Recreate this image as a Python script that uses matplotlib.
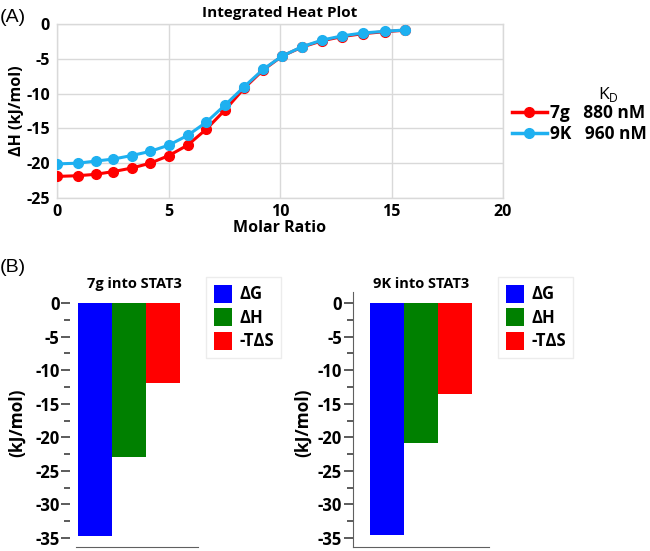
import matplotlib
matplotlib.use("Agg")
import matplotlib.pyplot as plt
from matplotlib.patches import Patch
from matplotlib.lines import Line2D

# ---------------- data ----------------
molar_ratio = [0, 0.92, 1.73, 2.53, 3.35, 4.18, 5.02, 5.86, 6.7, 7.55, 8.4,
               9.25, 10.1, 11.0, 11.9, 12.8, 13.7, 14.7, 15.6]
dh_7g = [-21.9, -21.8, -21.6, -21.2, -20.7, -20.0, -18.9, -17.4, -15.1, -12.3,
         -9.2, -6.6, -4.6, -3.3, -2.4, -1.8, -1.4, -1.1, -0.9]
dh_9k = [-20.1, -20.0, -19.7, -19.4, -18.9, -18.3, -17.4, -16.0, -14.1, -11.6,
         -9.0, -6.5, -4.6, -3.25, -2.3, -1.7, -1.3, -1.05, -0.86]
series_labels = ["7g   880 nM", "9K   960 nM"]

thermo_labels = ["\u0394G", "\u0394H", "-T\u0394S"]
values_7g = [-34.7, -22.9, -11.9]
values_9k = [-34.5, -20.8, -13.6]
bar_titles = ["7g into STAT3", "9K into STAT3"]

FONT = "Open Sans"
plt.rcParams['font.family'] = [FONT, 'DejaVu Sans']
plt.rcParams['axes.unicode_minus'] = False

W, H = 650, 551
fig = plt.figure(figsize=(W / 100, H / 100), dpi=100)


def rect(x0, y0, x1, y1):
    return [x0 / W, 1 - y1 / H, (x1 - x0) / W, (y1 - y0) / H]


# ---------------- panel A ----------------
ax = fig.add_axes(rect(57, 24, 503, 198))
grid_c = "#d9d9d9"
ax.plot(molar_ratio, dh_7g, color="#ff0000", lw=2.2, marker="o", ms=7, zorder=3)
ax.plot(molar_ratio, dh_9k, color="#1eb0f0", lw=2.2, marker="o", ms=7, zorder=4)
ax.set_xlim(0, 20)
ax.set_ylim(-25, 0)
ax.set_xticks([0, 5, 10, 15, 20])
ax.set_yticks([0, -5, -10, -15, -20, -25])
ax.grid(True, color=grid_c, lw=1)
ax.set_axisbelow(True)
for s in ax.spines.values():
    s.set_color(grid_c)
    s.set_linewidth(1)
ax.tick_params(axis="y", length=0, labelsize=11.5, pad=5)
ax.tick_params(axis="x", length=0, labelsize=11.5, pad=4)
for lab in ax.get_xticklabels() + ax.get_yticklabels():
    lab.set_fontweight("bold")
ax.set_title("Integrated Heat Plot", fontsize=11, fontweight="bold", pad=5)
ax.set_xlabel("Molar Ratio", fontsize=11.5, fontweight="bold", labelpad=0)
ax.set_ylabel("\u0394H (kJ/mol)", fontsize=11.5, fontweight="bold", labelpad=1)

handles = [Line2D([], [], color="#ff0000", lw=2.5, marker="o", ms=7),
           Line2D([], [], color="#1eb0f0", lw=2.5, marker="o", ms=7)]
leg = fig.legend(handles, series_labels, loc="upper left",
                 bbox_to_anchor=(512 / W, 1 - 104 / H), frameon=False,
                 prop={"family": FONT, "weight": "bold", "size": 12.5},
                 handlelength=2.0, handletextpad=0.2, labelspacing=0.2,
                 borderaxespad=0, borderpad=0)
fig.text(608 / W, 1 - 94 / H, "K$_\\mathregular{D}$", fontsize=12.5,
         ha="center", va="center")

fig.text(0, 1 - 18 / H, "(A)", fontsize=14, ha="left", va="center",
         family="Liberation Sans")
fig.text(0, 1 - 268 / H, "(B)", fontsize=14, ha="left", va="center",
         family="Liberation Sans")

# ---------------- panel B ----------------
colors = ["#0000ff", "#008000", "#ff0000"]
specs = [
    (values_7g, bar_titles[0], rect(70, 291.7, 198, 546.7), (-0.74, 3.03), False,
     -0.56, 17, (206 / W, 1 - 277 / H)),
    (values_9k, bar_titles[1], rect(352.5, 291.7, 489.3, 546.7), (-1.02, 3.02), True,
     -1.02, 303, (498 / W, 1 - 277 / H)),
]
for vals, title, r, xl, show_left, bstart, ylab_x, leg_anchor in specs:
    bx = fig.add_axes(r)
    xs = list(range(len(vals)))
    bx.bar(xs, vals, width=1.0, color=colors, align="center")
    bx.set_xlim(*xl)
    bx.set_ylim(-36.3, 1.7)
    bx.set_yticks([0, -5, -10, -15, -20, -25, -30, -35])
    bx.set_yticks([-2.5, -7.5, -12.5, -17.5, -22.5, -27.5, -32.5], minor=True)
    bx.set_xticks([])
    bx.spines["top"].set_visible(False)
    bx.spines["right"].set_visible(False)
    bx.spines["left"].set_visible(show_left)
    bx.spines["left"].set_color("#606060")
    bx.spines["bottom"].set_color("#606060")
    bx.spines["bottom"].set_bounds(bstart, xl[1])
    bx.tick_params(axis="y", which="major", length=6.5, width=1.2,
                   color="#404040", labelsize=12, pad=1)
    bx.tick_params(axis="y", which="minor", length=4, width=1.2, color="#404040")
    for lab in bx.get_yticklabels():
        lab.set_fontweight("bold")
    bx.set_title(title, fontsize=10.5, fontweight="bold", pad=3)
    fig.text(ylab_x / W, 1 - 423 / H, "(kJ/mol)", rotation=90, fontsize=12.5,
             fontweight="bold", ha="center", va="center")
    ph = [Patch(facecolor=c, edgecolor="none") for c in colors]
    lg = fig.legend(ph, thermo_labels, loc="upper left", bbox_to_anchor=leg_anchor,
                    prop={"family": FONT, "weight": "bold", "size": 12},
                    handlelength=1.1, handleheight=1.3, handletextpad=0.45,
                    labelspacing=0.3, borderpad=0.45, borderaxespad=0,
                    fancybox=False, framealpha=1)
    lg.get_frame().set_edgecolor("#ececec")
    lg.get_frame().set_linewidth(1)

fig.savefig("out.png", dpi=100)
